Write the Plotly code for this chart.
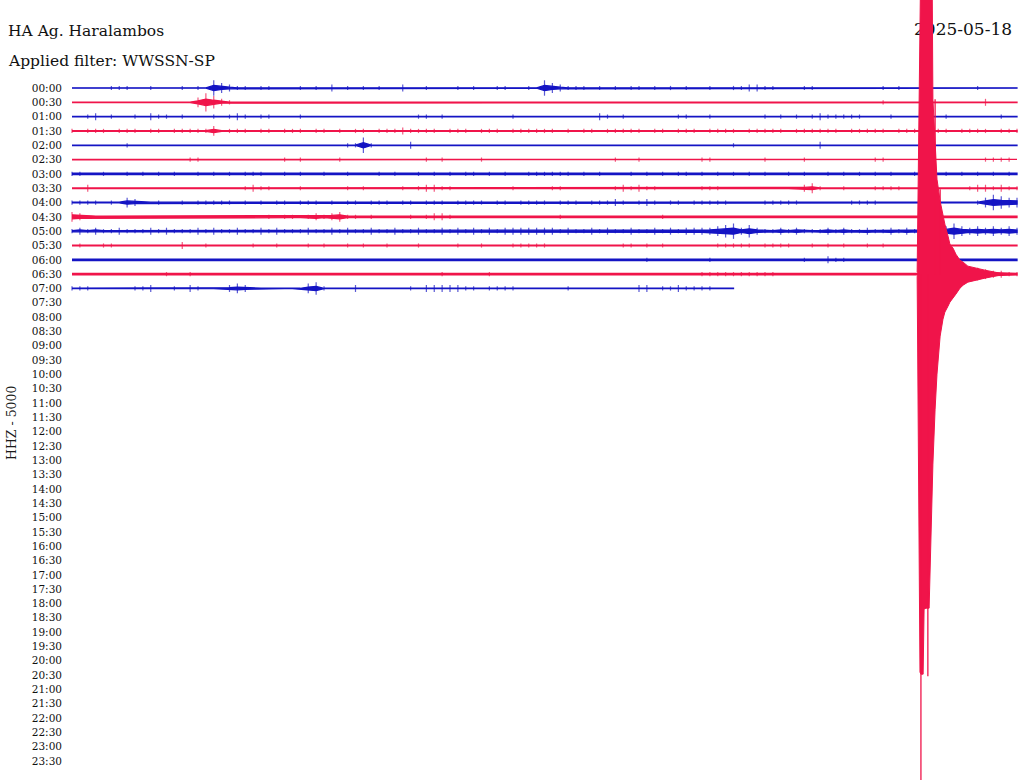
import plotly.graph_objects as go

# ---------------- text ----------------
station_title = "HA Ag. Haralambos"
filter_title = "Applied filter: WWSSN-SP"
date_label = "2025-05-18"
channel_label = "HHZ - 5000"

row_labels = [
    "00:00", "00:30", "01:00", "01:30", "02:00", "02:30", "03:00", "03:30",
    "04:00", "04:30", "05:00", "05:30", "06:00", "06:30", "07:00", "07:30",
    "08:00", "08:30", "09:00", "09:30", "10:00", "10:30", "11:00", "11:30",
    "12:00", "12:30", "13:00", "13:30", "14:00", "14:30", "15:00", "15:30",
    "16:00", "16:30", "17:00", "17:30", "18:00", "18:30", "19:00", "19:30",
    "20:00", "20:30", "21:00", "21:30", "22:00", "22:30", "23:00", "23:30",
]

# ---------------- data ----------------
minutes_per_row = 30
sample_step = 0.25  # minutes between envelope samples

# envelope amplitude (above background noise) per sample, one digit per sample
env_0000 = "0000011100" "1000101053" "2110110001" "0102010101" "0020010001" "0100110010" "5321110101" "0110101010" "0100112211" "0001100000" "0001010000" "0000010000" "0"
env_0030 = "0000000000" "0000003642" "1000000000" "0000000000" "0000000000" "0000000000" "0000000000" "0000000000" "0000000000" "0000000000" "0001000000" "0000002000" "0"
env_0100 = "0012010010" "2110100010" "1210110001" "0000000000" "0000110100" "0000001000" "0000000210" "1000000110" "0100000010" "1010121111" "1000100000" "0100000010" "0"
env_0130 = "1011101110" "1101111130" "1110110111" "0110101101" "1121111011" "1011101111" "1101011011" "1110110111" "0111101111" "1011111101" "1111011111" "1101111011" "1"
env_0200 = "0000000100" "0000000000" "0000000000" "0000011510" "0002000000" "0000000000" "0000000000" "0000000000" "0000100000" "0000020000" "0000000000" "0000000000" "0"
env_0230 = "0000000000" "0000011000" "0000000101" "0000100000" "0000010100" "0010000000" "0000000001" "0010000000" "1100000010" "0001000000" "0011000000" "0000001111" "0"
env_0300 = "1100100101" "0101001010" "1011100101" "0010010001" "0100101010" "1101010011" "1111010100" "0101010110" "1010101010" "0101001010" "1010100101" "0101010101" "0"
env_0330 = "0020000000" "0000000000" "0012110001" "0000010100" "0010122110" "0000001000" "0110000001" "2121100000" "1110000000" "0002310010" "0011110000" "0000122121" "1"
env_0400 = "1111010320" "0100101111" "1010101101" "1101011011" "1011011101" "1110110111" "1011101112" "1012101101" "1111000011" "1110000001" "1110000000" "0000013543" "3"
env_0430 = "3200000000" "0000000000" "0000010110" "1212311010" "0001012210" "0000000000" "0010000000" "0000010000" "0000000000" "0000000000" "0000000000" "0000000000" "0"
env_0500 = "1212112111" "2121112121" "1211212111" "2112121121" "1211211212" "1212122222" "2212112121" "1211212122" "2234524211" "2121112121" "1211212122" "2353232323" "2"
env_0530 = "0100110000" "0000200100" "0001001000" "1010010100" "1000100001" "0010001111" "1000000000" "1101010000" "0011111011" "1100101010" "0101000000" "0000000000" "0"
env_0600 = "0000000000" "0000000000" "0000000000" "0000000000" "0000000000" "0000000000" "0000000000" "0001000000" "0100000000" "0001002110" "0000000000" "0000000000" "0"
env_0630 = "0000000000" "0010010000" "0000000000" "0000000000" "0000000100" "0001000000" "0000000000" "0000000000" "1111111111" "0000000000" "0000000000" "6655443221" "1"
env_0700 = "1110000011" "2001021000" "2320000000" "3410002000" "0001022222" "1101111000" "0001000000" "0022011211" "11000"

envelopes = [env_0000, env_0030, env_0100, env_0130, env_0200, env_0230, env_0300,
             env_0330, env_0400, env_0430, env_0500, env_0530, env_0600, env_0630,
             env_0700]
# background noise half-width of each recorded row
noise_levels = [0.2, 0.25, 0.2, 0.35, 0.2, 0.25, 0.8, 0.25, 0.4, 0.8, 0.6, 0.25, 0.8, 0.8, 0.2]

# the large earthquake, recorded in the 06:30 row (minutes into the row, amplitude)
quake_row = 13
quake_t = [26.83, 26.92, 26.95, 27.02, 27.05, 27.11, 27.17, 27.21, 27.27, 27.30,
           27.33, 27.40, 27.46, 27.56, 27.65, 27.71, 27.81, 27.87, 27.97, 28.06,
           28.19, 28.29, 28.44, 28.67, 28.98, 29.46]
quake_up = [2, 330, 330, 330, 330, 330, 330, 330, 330, 330,
            175, 125, 95, 73, 58, 50, 38, 30, 26, 20, 14, 12, 8, 6, 4, 1]
quake_down = [2, 398, 400, 400, 335, 334, 334, 334, 257, 227,
              190, 135, 100, 62, 45, 38, 32, 28, 24, 20, 14, 11, 8, 6, 4, 1]
quake_spike_t = [26.95, 27.17, 27.40, 27.56]
quake_spike_amp = [-512, -402, 175, 85]

for i, s in enumerate(envelopes[:-1]):
    assert len(s) == 121, (i, len(s))
assert len(env_0700) == 85

# ---------------- layout geometry ----------------
W, H = 1024, 780
plot_left = 66
trace_x0, trace_x1 = 72, 1017
row0_y = 88
row_gap = (761 - 88) / 47.0
px_per_min = (trace_x1 - trace_x0) / minutes_per_row

x_range = [(plot_left - trace_x0) / px_per_min, (W - trace_x0) / px_per_min]
y_range = [-(H - row0_y) / row_gap, row0_y / row_gap]

BLUE = "#1414c4"
RED = "#f0144a"
FONT = "DejaVu Serif"

fig = go.Figure()

# date label (drawn under the traces, as in the original)
fig.add_trace(go.Scatter(
    x=[(914 - trace_x0) / px_per_min], y=[(row0_y - 31) / row_gap],
    mode="text", text=[date_label], textposition="middle right",
    textfont=dict(family=FONT, size=17, color="#111111"),
    hoverinfo="skip", showlegend=False, cliponaxis=False))


def add_row(i, s):
    color = BLUE if i % 2 == 0 else RED
    amps = [int(c) for c in s]
    xs = [k * sample_step for k in range(len(amps))]
    off = -i
    nz = noise_levels[i]
    half = [(nz + 0.6 * max(a - 1, 0)) / row_gap for a in amps]
    px = xs + xs[::-1]
    py = [off + h for h in half] + [off - h for h in half[::-1]]
    fig.add_trace(go.Scatter(x=px, y=py, mode="lines", fill="toself",
                             fillcolor=color, line=dict(color=color, width=1.3),
                             hoverinfo="skip", showlegend=False))
    sx = [x for x, a in zip(xs, amps) if a > 0]
    ss = [2 * a + 1 for a in amps if a > 0]
    if sx:
        fig.add_trace(go.Scatter(x=sx, y=[off] * len(sx), mode="markers",
                                 marker=dict(symbol="line-ns", size=ss,
                                             line=dict(color=color, width=1.2)),
                                 hoverinfo="skip", showlegend=False))


for i, s in enumerate(envelopes):
    add_row(i, s)
    if i == quake_row:
        off = -quake_row
        qx = quake_t + quake_t[::-1]
        qy = [off + u / row_gap for u in quake_up] + [off - d / row_gap for d in quake_down[::-1]]
        fig.add_trace(go.Scatter(x=qx, y=qy, mode="lines", fill="toself",
                                 fillcolor=RED, line=dict(color=RED, width=1),
                                 hoverinfo="skip", showlegend=False))
        sx, sy = [], []
        for t, a in zip(quake_spike_t, quake_spike_amp):
            sx += [t, t, None]
            sy += [off, off + a / row_gap, None]
        fig.add_trace(go.Scatter(x=sx, y=sy, mode="lines",
                                 line=dict(color=RED, width=1.3),
                                 hoverinfo="skip", showlegend=False))

fig.update_layout(
    width=W, height=H, autosize=False,
    margin=dict(l=plot_left, r=0, t=0, b=0),
    paper_bgcolor="white", plot_bgcolor="white",
    showlegend=False,
    xaxis=dict(range=x_range, showgrid=False, zeroline=False, showticklabels=False,
               showline=False, ticks="", fixedrange=True),
    yaxis=dict(range=y_range, showgrid=False, zeroline=False, showline=False,
               tickmode="array", tickvals=[-i for i in range(len(row_labels))],
               ticktext=row_labels, ticks="", ticklabelstandoff=3,
               tickfont=dict(family=FONT, size=10.5, color="#111111"), fixedrange=True),
    annotations=[
        dict(text=station_title, xref="paper", yref="paper",
             x=(6 - plot_left) / (W - plot_left), y=1 - 31 / H,
             xanchor="left", yanchor="middle", showarrow=False,
             font=dict(family=FONT, size=15.5, color="#111111")),
        dict(text=filter_title, xref="paper", yref="paper",
             x=(6 - plot_left) / (W - plot_left), y=1 - 61 / H,
             xanchor="left", yanchor="middle", showarrow=False,
             font=dict(family=FONT, size=15.5, color="#111111")),
        dict(text=channel_label, xref="paper", yref="paper",
             x=(12 - plot_left) / (W - plot_left), y=1 - 423 / H,
             xanchor="center", yanchor="middle", textangle=-90, showarrow=False,
             font=dict(family=FONT, size=12.5, color="#1a1a1a")),
    ],
)

fig.write_html("out.html", config={"displayModeBar": False},
               post_script="document.body.style.margin='0px';document.body.style.padding='0px';")
